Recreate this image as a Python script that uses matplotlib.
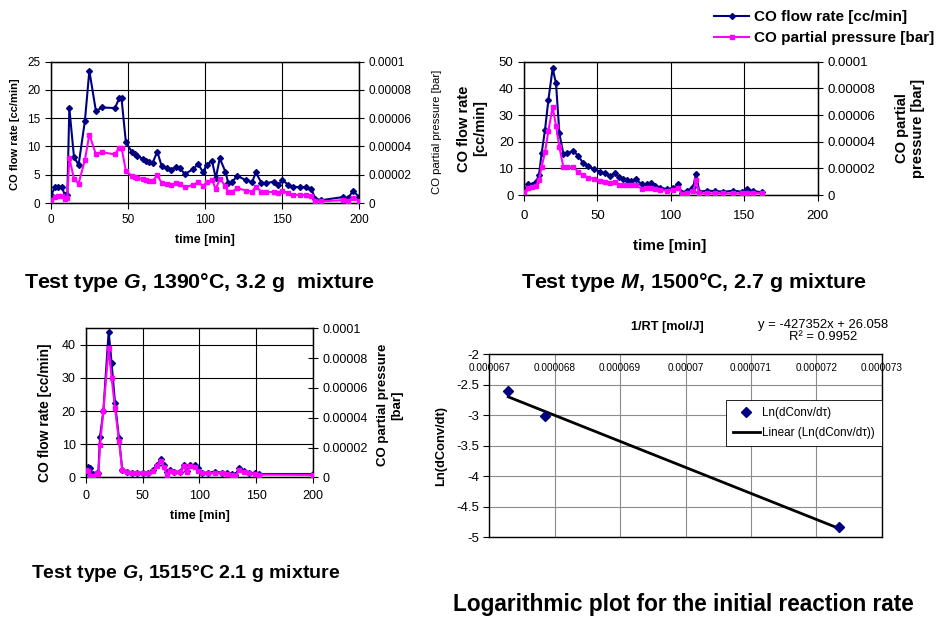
import matplotlib
matplotlib.use('Agg')
import matplotlib.pyplot as plt
from matplotlib.lines import Line2D

plt.rcParams['font.family'] = ['Liberation Sans', 'DejaVu Sans']
plt.rcParams['mathtext.fontset'] = 'custom'
plt.rcParams['mathtext.rm'] = 'Liberation Sans:bold'
plt.rcParams['mathtext.it'] = 'Liberation Sans:bold:italic'
plt.rcParams['axes.unicode_minus'] = False

NAVY = '#000080'
PINK = '#ff00ff'

# ---- test G, 1390 C, 3.2 g
t_g1 = [0, 2.6, 4.8, 6.9, 9.1, 10.6, 11.9, 14.9, 17.9, 22, 24.9, 29.2, 32.9, 41.5, 44.3, 45.8,
        48.6, 52.3, 54.5, 56, 59.5, 62, 63.8, 66, 69, 71.8, 75, 77.6, 80.9, 83.7, 86.9, 92.3,
        95.6, 98.8, 101, 104.6, 107, 109.6, 113.3, 115, 117.6, 120.9, 126.9, 130.6, 133, 136.6,
        139.9, 144.6, 147.5, 150.3, 154, 157.2, 161.5, 165.8, 169, 171.7, 175.6, 189.6, 192.9,
        196.1, 200]
flow_g1 = [1.35, 2.8, 2.8, 2.9, 1.35, 1.35, 16.8, 8.2, 6.7, 14.5, 23.4, 16.2, 16.9, 16.8, 18.5, 18.5,
           10.8, 9.1, 8.7, 8.4, 7.8, 7.5, 7.2, 7.1, 9.1, 6.6, 6.2, 5.8, 6.4, 6.2, 5.1, 6.0,
           6.9, 5.4, 6.8, 7.4, 4.4, 7.9, 5.5, 3.6, 3.7, 4.8, 4.0, 3.7, 5.4, 3.6,
           3.5, 3.8, 3.1, 4.1, 3.2, 2.9, 2.8, 2.8, 2.5, 0.7, 0.5, 1.05, 0.8,
           2.2, 1.05]
pp_g1 = [2.4e-6, 4.0e-6, 5.2e-6, 5.2e-6, 2.8e-6, 3.2e-6, 3.2e-5, 1.72e-5, 1.36e-5, 3.04e-5, 4.84e-5,
         3.44e-5, 3.6e-5, 3.44e-5, 3.92e-5, 3.92e-5, 2.28e-5, 1.92e-5, 1.84e-5, 1.8e-5, 1.68e-5,
         1.6e-5, 1.56e-5, 1.56e-5, 1.96e-5, 1.44e-5, 1.36e-5, 1.28e-5, 1.4e-5, 1.36e-5, 1.12e-5,
         1.28e-5, 1.48e-5, 1.2e-5, 1.48e-5, 1.64e-5, 9.6e-6, 1.72e-5, 1.2e-5, 8.0e-6, 8.0e-6,
         1.04e-5, 8.8e-6, 8.0e-6, 1.16e-5, 8.0e-6, 7.6e-6, 8.0e-6, 6.8e-6, 8.8e-6, 6.8e-6, 6.0e-6,
         5.6e-6, 5.6e-6, 4.8e-6, 1.2e-6, 1.2e-6, 2.0e-6, 1.6e-6, 3.6e-6, 1.6e-6]

# ---- test M, 1500 C, 2.7 g
t_m = [0, 3, 5.2, 8.2, 10.2, 12, 14.3, 16.6, 19.5, 21.8, 24.1, 26.8, 29.5, 33.6, 37, 40.4, 43.8,
       47.9, 51.8, 55.2, 58.6, 62, 64.9, 67.7, 69.9, 72.6, 76, 80.1, 83.5, 86.3, 89.2, 92.6,
       97.2, 101.7, 105.1, 107.4, 110.8, 115.3, 117.1, 119.4, 124.4, 130.1, 135.8, 142.6,
       148.2, 151.6, 156.2, 161.9]
flow_m = [1.9, 4.0, 3.8, 5.0, 7.5, 15.6, 24.4, 35.6, 47.5, 41.9, 23.1, 15.4, 15.6, 16.6, 14.6, 11.9,
          10.9, 9.6, 8.75, 8.1, 7.1, 8.1, 6.6, 6.0, 5.6, 5.25, 5.9, 4.1, 4.1, 4.6, 3.5, 2.75,
          2.25, 2.5, 4.0, 0.9, 1.5, 3.1, 7.9, 1.25, 1.6, 1.5, 1.25, 1.6, 1.25, 2.1, 1.5, 1.0]
pp_m = [2.4e-6, 5.0e-6, 6.2e-6, 7.0e-6, 1.12e-5, 2.12e-5, 3.2e-5, 4.8e-5, 6.62e-5, 5.2e-5, 3.6e-5,
        2.1e-5, 2.1e-5, 2.12e-5, 1.7e-5, 1.5e-5, 1.3e-5, 1.2e-5, 1.08e-5, 1.0e-5, 9.0e-6, 1.0e-5,
        7.8e-6, 7.2e-6, 7.2e-6, 7.2e-6, 7.2e-6, 4.8e-6, 5.6e-6, 5.2e-6, 4.4e-6, 3.8e-6, 3.2e-6,
        3.6e-6, 5.6e-6, 1.0e-6, 1.6e-6, 3.0e-6, 1.1e-5, 1.2e-6, 1.2e-6, 1.2e-6, 1.2e-6, 1.2e-6,
        1.2e-6, 1.8e-6, 1.6e-6, 1.2e-6]

# ---- test G, 1515 C, 2.1 g
t_g2 = [0, 1.5, 3.5, 5.9, 9.4, 10.9, 12.4, 15.3, 20, 22.6, 25.6, 29.1, 32, 35.9, 40.3, 44.7, 50.6,
        55, 59.4, 62.4, 65.9, 68.8, 71.2, 74.1, 77.6, 82.9, 86.5, 88.8, 91.8, 96.2, 99.1, 102,
        107.9, 113.8, 119.7, 124.1, 128.5, 131.5, 135, 139.4, 144.1, 149.1, 152.9, 200]
flow_g2 = [1.7, 3.2, 2.7, 1.0, 1.2, 1.4, 12.3, 20, 44, 34.5, 22.4, 11.8, 2.2, 1.7, 1.4, 1.4, 1.4,
           1.4, 2.2, 3.7, 5.4, 3.7, 1.7, 2.2, 1.7, 1.7, 3.7, 1.9, 3.7, 3.7, 2.7, 1.4,
           1.4, 1.7, 1.4, 1.2, 1.0, 0.7, 2.7, 2.0, 1.4, 1.2, 1.0, 1.0]
pp_g2 = [4.9e-6, 4.4e-6, 1.1e-6, 1.1e-6, 2.7e-6, 2.2e-6, 2.18e-5, 4.44e-5, 8.67e-5, 6.67e-5,
         4.64e-5, 2.44e-5, 4.9e-6, 3.8e-6, 2.7e-6, 2.7e-6, 2.7e-6, 2.7e-6, 4.4e-6, 7.8e-6,
         1.11e-5, 7.1e-6, 1.8e-6, 4.4e-6, 3.6e-6, 3.6e-6, 7.3e-6, 3.3e-6, 7.6e-6, 7.1e-6,
         4.4e-6, 2.7e-6, 2.7e-6, 2.9e-6, 2.7e-6, 2.0e-6, 1.6e-6, 0.7e-6, 4.7e-6, 3.8e-6,
         2.7e-6, 2.2e-6, 1.8e-6, 1.6e-6]

pp_ticks = [0, 0.00002, 0.00004, 0.00006, 0.00008, 0.0001]
pp_labels = ['0', '0.00002', '0.00004', '0.00006', '0.00008', '0.0001']
time_ticks = [0, 50, 100, 150, 200]

# ---- Arrhenius plot
inv_rt = [0.00006729, 0.00006785, 0.00007235]
ln_rate = [-2.606, -3.014, -4.834]
fit_slope = -427352
fit_intercept = 26.058
fit_r2 = 0.9952
rt_ticks = [0.000067, 0.000068, 0.000069, 0.00007, 0.000071, 0.000072, 0.000073]
rt_labels = ['0.000067', '0.000068', '0.000069', '0.00007', '0.000071', '0.000072', '0.000073']
ln_ticks = [-5, -4.5, -4, -3.5, -3, -2.5, -2]
ln_labels = ['-5', '-4.5', '-4', '-3.5', '-3', '-2.5', '-2']

W, H = 939, 631
fig = plt.figure(figsize=(W / 100, H / 100), dpi=100)


def rect(left, top, right, bottom):
    return [left / W, 1 - bottom / H, (right - left) / W, (bottom - top) / H]


def time_panel(box, t, flow, pp, ymax, ystep, fs, xpad):
    ax = fig.add_axes(box)
    ax2 = ax.twinx()
    ax.plot(t, flow, color=NAVY, lw=1.5, marker='D', ms=3, mec=NAVY, zorder=3)
    ax2.plot(t, pp, color=PINK, lw=1.5, marker='s', ms=2.6, mec=PINK, zorder=3)
    ax.set_xlim(0, 200)
    ax.set_ylim(0, ymax)
    ax2.set_ylim(0, 0.0001)
    ax.set_xticks(time_ticks)
    ax.set_yticks(list(range(0, ymax + 1, ystep)))
    ax2.set_yticks(pp_ticks, labels=pp_labels)
    ax.grid(True, color='black', lw=0.8)
    ax.set_axisbelow(True)
    ax.tick_params(axis='both', labelsize=fs, direction='out', length=4, width=0.8)
    ax.tick_params(axis='x', pad=xpad)
    ax2.tick_params(axis='y', labelsize=fs, direction='inout', length=7, width=0.8)
    for a in (ax, ax2):
        for s in a.spines.values():
            s.set_linewidth(0.9)
    return ax, ax2


# top-left
ax1, ax1b = time_panel(rect(51, 61.7, 359, 203), t_g1, flow_g1, pp_g1, 25, 5, 8.5, 4)
ax1.set_ylabel('CO flow rate [cc/min]', fontsize=8, fontweight='bold')
ax1.yaxis.set_label_coords(-0.10, 0.49)
ax1b.set_ylabel('CO partial pressure [bar]', fontsize=8.2)
ax1b.yaxis.set_label_coords(1.237, 0.5)
ax1.set_xlabel('time [min]', fontsize=9, fontweight='bold')
ax1.xaxis.set_label_coords(0.5, -0.22)

# top-right
ax2, ax2b = time_panel(rect(524, 61.7, 817.7, 195), t_m, flow_m, pp_m, 50, 10, 9.5, 7)
ax2.set_ylabel('CO flow rate\n[cc/min]', fontsize=10.5, fontweight='bold')
ax2.yaxis.set_label_coords(-0.126, 0.5)
ax2b.set_ylabel('CO partial\npressure [bar]', fontsize=10.5, fontweight='bold')
ax2b.yaxis.set_label_coords(1.263, 0.5)
ax2.set_xlabel('time [min]', fontsize=11, fontweight='bold')
ax2.xaxis.set_label_coords(0.497, -0.33)

# bottom-left
ax3, ax3b = time_panel(rect(86, 328.3, 312.7, 477.3), t_g2, flow_g2, pp_g2, 45, 10, 9, 5)
ax3.set_yticks([0, 10, 20, 30, 40])
ax3.set_ylabel('CO flow rate [cc/min]', fontsize=10, fontweight='bold')
ax3.yaxis.set_label_coords(-0.15, 0.43)
ax3b.set_ylabel('CO partial pressure\n[bar]', fontsize=9.5, fontweight='bold')
ax3b.yaxis.set_label_coords(1.284, 0.485)
ax3.set_xlabel('time [min]', fontsize=9, fontweight='bold')
ax3.xaxis.set_label_coords(0.503, -0.22)

# bottom-right: log plot
ax4 = fig.add_axes(rect(489.3, 354.3, 881.7, 537))
ax4.plot(inv_rt, ln_rate, linestyle='none', marker='D', ms=5, color=NAVY,
         label='Ln(dConv/dτ)', zorder=4)
fit_x = [min(inv_rt), max(inv_rt)]
fit_y = [fit_slope * x + fit_intercept for x in fit_x]
ax4.plot(fit_x, fit_y, color='black', lw=2, label='Linear (Ln(dConv/dτ))', zorder=3)
ax4.set_xlim(rt_ticks[0], rt_ticks[-1])
ax4.set_ylim(-5, -2)
ax4.set_xticks(rt_ticks, labels=rt_labels)
ax4.set_yticks(ln_ticks, labels=ln_labels)
ax4.grid(True, color='#8c8c8c', lw=0.8)
ax4.set_axisbelow(True)
ax4.xaxis.tick_top()
ax4.tick_params(axis='x', labelsize=7.2, direction='in', length=0, pad=-13.5)
ax4.tick_params(axis='y', labelsize=9.5, direction='out', length=4, width=0.8)
for s in ax4.spines.values():
    s.set_linewidth(1)
ax4.set_ylabel('Ln(dConv/dt)', fontsize=9.3, fontweight='bold')
ax4.yaxis.set_label_coords(-0.108, 0.5)
ax4.text(0.453, 1.149, '1/RT [mol/J]', transform=ax4.transAxes, ha='center', va='center',
         fontsize=9.2, fontweight='bold')
ax4.text(0.851, 1.125, f'y = {fit_slope}x + {fit_intercept}\nR² = {fit_r2}',
         transform=ax4.transAxes, ha='center', va='center', fontsize=9.4,
         multialignment='center', linespacing=1.0)
leg4 = ax4.legend(loc='upper right', bbox_to_anchor=(1.0, 0.75), borderaxespad=0,
                  fontsize=8.4, fancybox=False, edgecolor='black', framealpha=1,
                  handlelength=2.3, handletextpad=0.2, borderpad=0.6, labelspacing=0.7)
leg4.get_frame().set_linewidth(0.6)

# figure legend
handles = [Line2D([], [], color=NAVY, lw=1.5, marker='D', ms=3),
           Line2D([], [], color=PINK, lw=1.5, marker='s', ms=2.6)]
fig.legend(handles, ['CO flow rate [cc/min]', 'CO partial pressure [bar]'],
           loc='upper left', bbox_to_anchor=(714 / W, 1 - 10 / H), frameon=False,
           prop={'weight': 'bold', 'size': 11}, handlelength=2.3, handletextpad=0.3,
           borderpad=0, borderaxespad=0, labelspacing=0.45)

# captions
cap_kw = dict(ha='center', va='center', fontweight='bold')
fig.text(199 / W, 1 - 283 / H, 'Test type $G$, 1390°C, 3.2 g  mixture', fontsize=15.4, **cap_kw)
fig.text(694 / W, 1 - 283 / H, 'Test type $M$, 1500°C, 2.7 g mixture', fontsize=15.4, **cap_kw)
fig.text(186 / W, 1 - 573 / H, 'Test type $G$, 1515°C 2.1 g mixture', fontsize=14, **cap_kw)
fig.text(683 / W, 1 - 604 / H, 'Logarithmic plot for the initial reaction rate', fontsize=16.3,
         **cap_kw)

fig.savefig('out.png', dpi=100)
